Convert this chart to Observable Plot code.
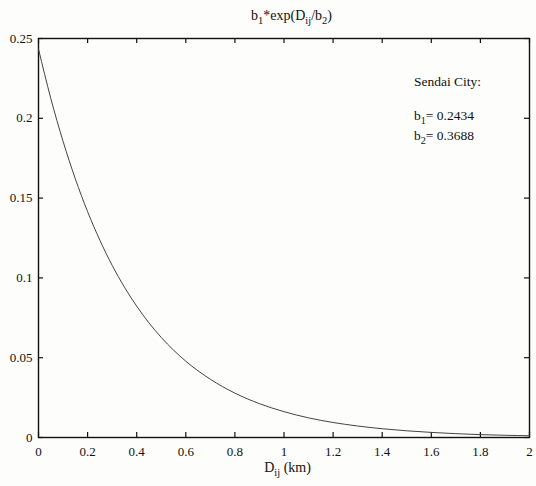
<!DOCTYPE html>
<html>
<head>
<meta charset="utf-8">
<script src="https://cdn.jsdelivr.net/npm/d3@7"></script>
<script src="https://cdn.jsdelivr.net/npm/@observablehq/plot@0.6"></script>
<style>
  html, body { margin: 0; padding: 0; background: #fdfdfb; }
  #chart svg { display: block; }
  #chart svg text { font-family: "Liberation Serif", "DejaVu Serif", serif !important; }
</style>
</head>
<body>
<div id="chart"></div>
<script>
// Distance D_ij (km) and read-off values of the fitted curve
const distance = [0, 0.05, 0.1, 0.15, 0.2, 0.25, 0.3, 0.35, 0.4, 0.45, 0.5, 0.6, 0.7, 0.8, 0.9, 1.0, 1.1, 1.2, 1.3, 1.4, 1.5, 1.6, 1.7, 1.8, 1.9, 2.0];
const value = [0.2434, 0.2125, 0.1856, 0.1621, 0.1415, 0.1236, 0.1079, 0.0942, 0.0823, 0.0718, 0.0627, 0.0478, 0.0365, 0.0278, 0.0212, 0.0162, 0.0123, 0.0094, 0.0072, 0.0055, 0.0042, 0.0032, 0.0024, 0.0018, 0.0014, 0.0011];
const xTicks = [0, 0.2, 0.4, 0.6, 0.8, 1, 1.2, 1.4, 1.6, 1.8, 2];
const yTicks = [0, 0.05, 0.1, 0.15, 0.2, 0.25];
const cityLabel = "Sendai City:";
const paramNames = ["1", "2"];
const paramValues = ["0.2434", "0.3688"];

const data = distance.map((d, i) => ({x: d, y: value[i]}));

const W = 536, H = 486;
const mL = 38, mR = 7, mT = 38, mB = 49;
const innerH = H - mT - mB, innerW = W - mL - mR;
const tickLen = 5;
const font = "Liberation Serif, DejaVu Serif, serif";

const plot = Plot.plot({
  width: W,
  height: H,
  marginLeft: mL,
  marginRight: mR,
  marginTop: mT,
  marginBottom: mB,
  style: {fontFamily: font, fontSize: "13px", color: "#111", background: "transparent"},
  x: {domain: [0, 2]},
  y: {domain: [0, 0.25]},
  marks: [
    Plot.frame({stroke: "#111", strokeWidth: 1.4}),
    Plot.tickX(xTicks, {x: d => d, insetTop: innerH - tickLen, stroke: "#111", strokeWidth: 1.2}),
    Plot.tickX(xTicks, {x: d => d, insetBottom: innerH - tickLen, stroke: "#111", strokeWidth: 1.2}),
    Plot.tickY(yTicks, {y: d => d, insetRight: innerW - tickLen, stroke: "#111", strokeWidth: 1.2}),
    Plot.tickY(yTicks, {y: d => d, insetLeft: innerW - tickLen, stroke: "#111", strokeWidth: 1.2}),
    Plot.axisX(xTicks, {tickSize: 0, tickPadding: 9, label: null, fontSize: 13, tickFormat: d => String(d)}),
    Plot.axisY(yTicks, {tickSize: 0, tickPadding: 6, label: null, fontSize: 13, tickFormat: d => String(d)}),
    Plot.line(data, {x: "x", y: "y", stroke: "#444", strokeWidth: 1, curve: "monotone-x"})
  ]
});

document.getElementById("chart").appendChild(plot);

const svg = d3.select(plot);
function subText(x, y, parts, size, anchor) {
  const t = svg.append("text")
    .attr("x", x).attr("y", y)
    .attr("text-anchor", anchor || "middle")
    .attr("font-size", size)
    .attr("fill", "#111");
  parts.forEach(p => {
    const s = t.append("tspan").text(p.t);
    if (p.sub) s.attr("font-size", size * 0.75).attr("dy", size * 0.3);
    if (p.up) s.attr("dy", -size * 0.3);
  });
  return t;
}

// Title
subText(mL + innerW / 2 + 8, 20, [
  {t: "b"}, {t: "1", sub: true}, {t: "*exp(D", up: true}, {t: "ij", sub: true},
  {t: "/b", up: true}, {t: "2", sub: true}, {t: ")", up: true}
], 14);

// X label
subText(mL + innerW / 2 + 4, 472, [
  {t: "D"}, {t: "ij", sub: true}, {t: " (km)", up: true}
], 14);

// Annotation
subText(414, 86, [{t: cityLabel}], 13.5, "start");
paramNames.forEach((n, i) => {
  subText(414, 120 + i * 20, [
    {t: "b"}, {t: n, sub: true}, {t: "= " + paramValues[i], up: true}
  ], 13.5, "start");
});
</script>
</body>
</html>
